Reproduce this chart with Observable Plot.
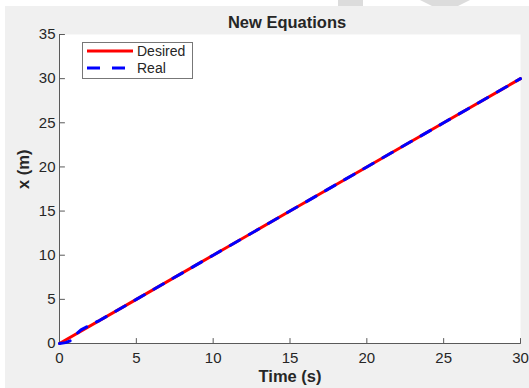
<!DOCTYPE html>
<html>
<head>
<meta charset="utf-8">
<script src="https://cdn.jsdelivr.net/npm/d3@7"></script>
<script src="https://cdn.jsdelivr.net/npm/@observablehq/plot@0.6"></script>
<style>
  html, body { margin: 0; padding: 0; background: #ffffff; }
  body { width: 529px; height: 388px; position: relative; overflow: hidden; font-family: "Liberation Sans", Arial, sans-serif; }
  #figure { position: absolute; left: 5px; top: 6px; width: 524px; height: 382px; background: #f0f0f0; }
  #deco { position: absolute; left: 0; top: 0; }
  #legend { position: absolute; left: 0; top: 0; }
</style>
</head>
<body>
<svg id="deco" width="529" height="6">
  <rect x="338" y="0" width="25" height="6" fill="#dcdcdc"></rect>
  <polygon points="420,0 470,0 458,6 432,6" fill="#dcdcdc"></polygon>
</svg>
<div id="figure"></div>
<svg id="legend" width="529" height="388"></svg>
<script>
// Trajectory data: time (s) and position x (m)
const timeDesired = [0, 5, 10, 15, 20, 25, 30];
const xDesired    = [0, 5, 10, 15, 20, 25, 30];

const timeReal = [0, 0.4, 0.7, 1.0, 1.4, 2.0, 2.6, 5, 10, 15, 20, 25, 30];
const xReal    = [0, 0.1, 0.3, 0.9, 1.55, 2.1, 2.6, 5, 10, 15, 20, 25, 30];

const xTicks = [0, 5, 10, 15, 20, 25, 30];
const yTicks = [0, 5, 10, 15, 20, 25, 30, 35];

const seriesNames = ["Desired", "Real"];
const seriesColors = ["#ff0000", "#0000ff"];

const desired = timeDesired.map((t, i) => ({t, x: xDesired[i]}));
const real = timeReal.map((t, i) => ({t, x: xReal[i]}));

const axisColor = "#5a5a5a";
const textColor = "#262626";
const dash = "11,11";

// short straight stroke used for inward tick marks
const tickShape = {draw(ctx, l) { ctx.moveTo(0, 0); ctx.lineTo(0, -l); }};

const chart = Plot.plot({
  width: 524,
  height: 382,
  marginLeft: 54,
  marginRight: 9,
  marginTop: 28,
  marginBottom: 45,
  style: {background: "transparent", fontFamily: "'Liberation Sans', Arial, sans-serif", fontSize: "15px", color: textColor},
  x: {domain: [0, 30]},
  y: {domain: [0, 35]},
  marks: [
    Plot.frame({fill: "white", stroke: null}),
    Plot.ruleX([0], {stroke: axisColor, strokeWidth: 1}),
    Plot.ruleY([0], {stroke: axisColor, strokeWidth: 1}),
    Plot.vector(xTicks, {x: d => d, y: 0, length: 5, rotate: 0, anchor: "start", shape: tickShape, stroke: axisColor, strokeWidth: 1}),
    Plot.vector(yTicks, {x: 0, y: d => d, length: 5, rotate: 90, anchor: "start", shape: tickShape, stroke: axisColor, strokeWidth: 1}),
    Plot.axisX({ticks: xTicks, tickSize: 0, tickPadding: 9, label: null, fontSize: 15, color: textColor}),
    Plot.axisY({ticks: yTicks, tickSize: 0, tickPadding: 4, label: null, fontSize: 15, color: textColor}),
    Plot.line(desired, {x: "t", y: "x", stroke: seriesColors[0], strokeWidth: 3}),
    Plot.line(real, {x: "t", y: "x", stroke: seriesColors[1], strokeWidth: 3, strokeDasharray: dash}),
    Plot.text(["New Equations"], {frameAnchor: "top", lineAnchor: "middle", dx: -3, dy: -11.5, fontWeight: "bold", fontSize: 16.5, fill: textColor}),
    Plot.text(["Time (s)"], {frameAnchor: "bottom", lineAnchor: "middle", dy: 33, fontWeight: "bold", fontSize: 16.5, fill: textColor}),
    Plot.text(["x (m)"], {frameAnchor: "left", lineAnchor: "middle", dx: -36, rotate: -90, fontWeight: "bold", fontSize: 16.5, fill: textColor})
  ]
});
document.getElementById("figure").appendChild(chart);

// Legend box
const lg = d3.select("#legend");
lg.append("rect").attr("x", 82.5).attr("y", 42.5).attr("width", 110).attr("height", 36)
  .attr("fill", "white").attr("stroke", "#777").attr("stroke-width", 1);
seriesNames.forEach((name, i) => {
  const y = 51 + i * 17;
  lg.append("line").attr("x1", 87).attr("x2", 133).attr("y1", y).attr("y2", y)
    .attr("stroke", seriesColors[i]).attr("stroke-width", 3)
    .attr("stroke-dasharray", i === 1 ? "13,12" : null);
  lg.append("text").attr("x", 137).attr("y", y).attr("dy", "0.35em")
    .attr("font-size", 14).attr("fill", textColor)
    .attr("font-family", "'Liberation Sans', Arial, sans-serif").text(name);
});
</script>
</body>
</html>
